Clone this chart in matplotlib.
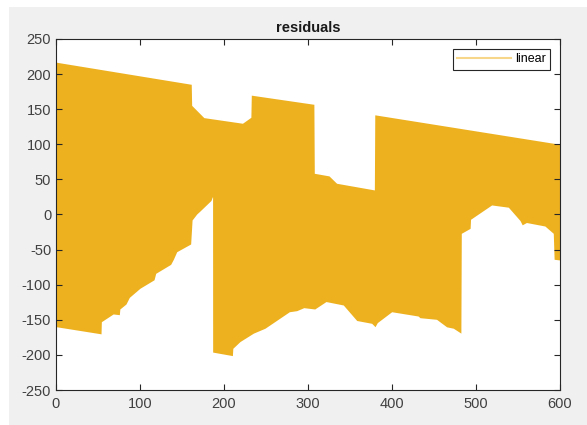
import numpy as np
import matplotlib
matplotlib.use('Agg')
from matplotlib import pyplot as plt
from matplotlib.patches import Rectangle

plt.rcParams['font.family'] = ['Liberation Sans', 'DejaVu Sans']
plt.rcParams['axes.unicode_minus'] = False

# upper edge of the residual band (x, y)
up_x = [0, 161, 161.5, 176, 222, 232, 232.5, 307, 307.5, 325, 334, 379, 379.5, 600]
up_y = [217, 185.5, 155.5, 138, 130, 138.5, 170, 157, 58.7, 55, 44.5, 35, 142, 100]

# lower edge of the residual band (x, y)
lo_x = [0, 53.6, 54, 68, 75.4, 76, 83.3, 87.3, 100, 116.7, 118.7, 136.5, 139.7, 143.7,
        160.3, 162, 167.5, 171.4, 184.5, 186, 186.5, 210, 210.5, 219, 235, 248.8, 277.8,
        286.5, 295, 308, 321.4, 342, 358, 375.8, 379.8, 382.5, 399.6, 431, 433.3, 453,
        465, 473, 482, 482.5, 493, 493.5, 518.6, 538.5, 552.4, 555, 560, 582, 592, 593, 600]
lo_y = [-159.8, -170, -152.7, -141.7, -142.7, -134.6, -127.5, -118, -105, -93, -83.8, -71,
        -63.8, -53, -42, -7.8, 0.7, 5, 20, 25, -196, -201, -190.6, -181, -169, -162, -138.5,
        -137, -132.7, -134.6, -124, -128.9, -151, -155, -159.8, -154, -138.5, -144.6, -147,
        -149.3, -160, -162, -169, -26.8, -19.7, -6.8, 13.6, 10.4, -8.6, -14.7, -11.4, -16.4,
        -26.8, -63.8, -64.8]

xx = np.linspace(0, 600, 6001)
upper = np.interp(xx, up_x, up_y)
lower = np.interp(xx, lo_x, lo_y)
# small white slit where the data jumps near x=186
gap = (xx > 186) & (xx < 186.5)
lower[gap] = 25

col = '#EDB120'

fig = plt.figure(figsize=(5.87, 4.25), dpi=100)
fig.patches.append(Rectangle((9/587, 0), 1, (425-7)/425, transform=fig.transFigure,
                             facecolor='#f0f0f0', edgecolor='none', zorder=-10))
ax = fig.add_axes([56/587, 35/425, 504/587, 351/425])
ax.fill_between(xx, lower, upper, color=col, linewidth=0)
ax.plot([], [], color='#f7d68a', lw=1.5, label='linear')

ax.set_xlim(0, 600)
ax.set_ylim(-250, 250)
ax.set_xticks(range(0, 601, 100))
ax.set_yticks(range(-250, 251, 50))
ax.tick_params(direction='in', top=True, right=True, length=4, labelsize=10.5,
               colors='#262626', labelcolor='#404040')
ax.tick_params(axis='x', pad=5)
for s in ax.spines.values():
    s.set_color('#262626')
    s.set_linewidth(0.8)
ax.set_title('residuals', fontsize=10.5, fontweight='bold', color='#1a1a1a', pad=5)

leg = ax.legend(loc='upper right', fontsize=9, fancybox=False, framealpha=1,
                edgecolor='#262626', handlelength=4.3, borderaxespad=0.8,
                borderpad=0.35, handletextpad=0.3)
leg.get_frame().set_linewidth(0.8)

fig.savefig('out.png', dpi=100)
